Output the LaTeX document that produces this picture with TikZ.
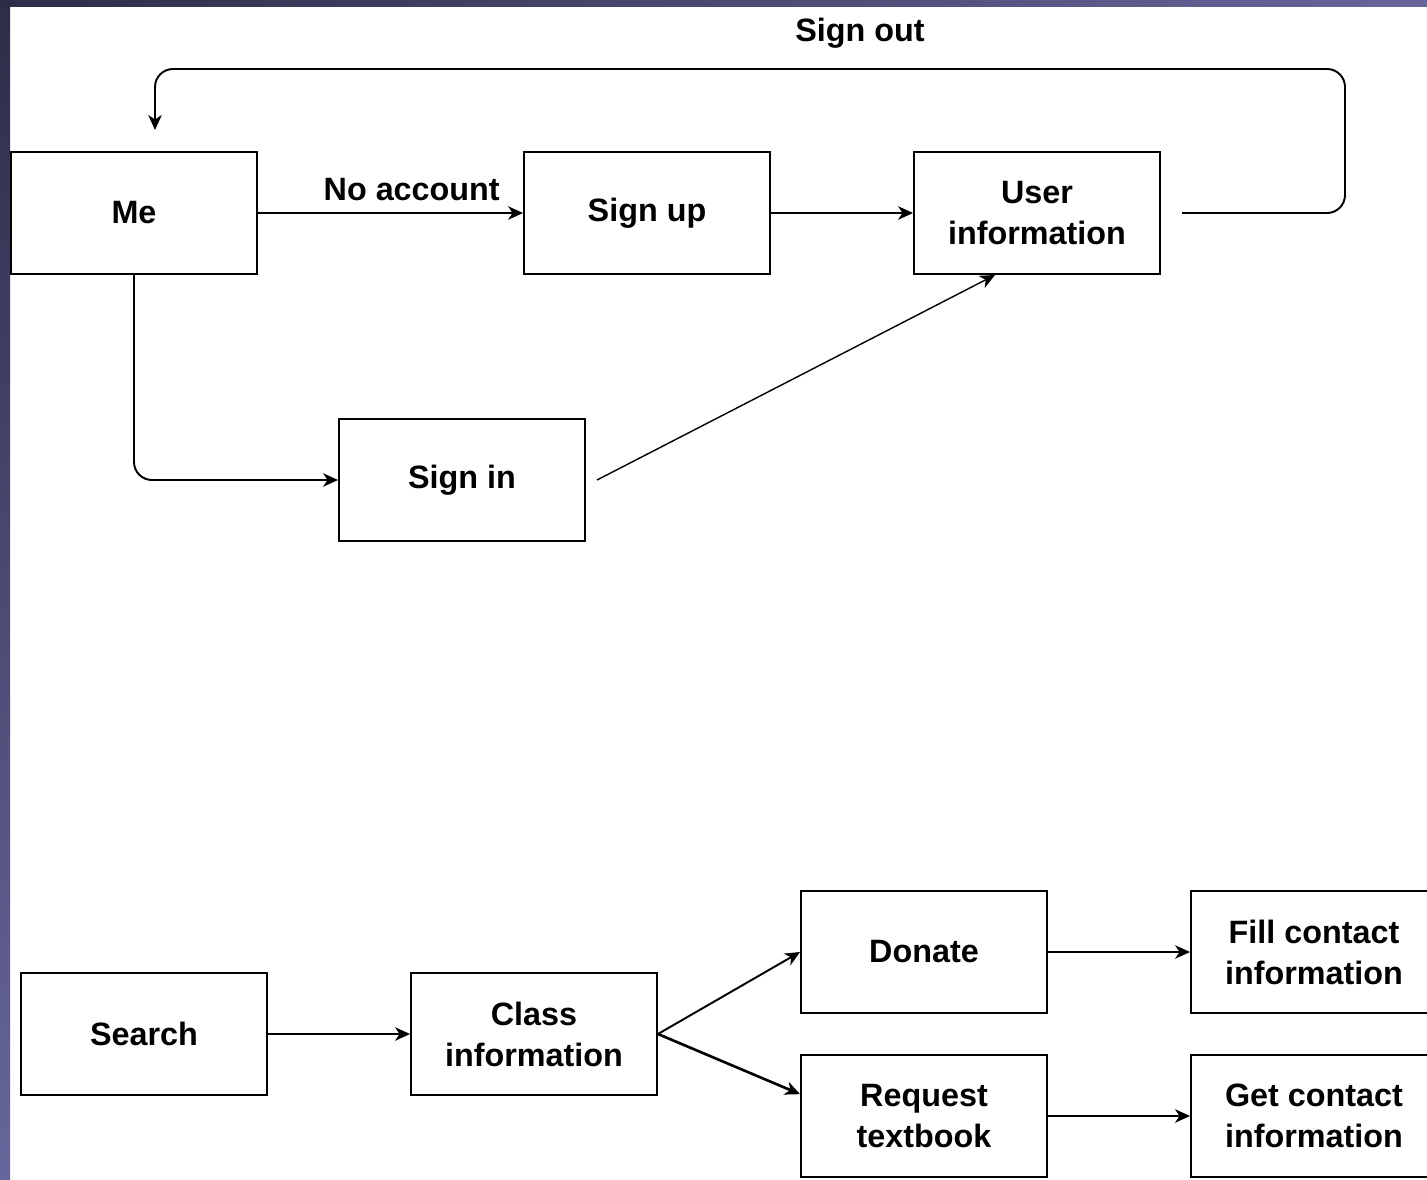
\documentclass[tikz,border=0pt]{standalone}
\usepackage{fontspec}
\setmainfont{Liberation Sans}
\usetikzlibrary{positioning, arrows.meta}

\definecolor{framedark}{HTML}{2E2D47}
\definecolor{framelight}{HTML}{67669C}

\begin{document}
\begin{tikzpicture}
            [x=0.02cm, y=-0.02cm,
             block/.style={draw, line width=1.1pt, minimum width=4.92cm, minimum height=2.44cm,
                           inner sep=0pt, align=center, font=\bfseries\fontsize{18.4}{23.3}\selectfont},
             lbl/.style={font=\bfseries\fontsize{18.4}{23.3}\selectfont},
             link/.style={line width=1.1pt},
             >={Stealth[length=0.3cm, width=0.27cm, inset=0.09cm]}]
            \useasboundingbox (0,0) rectangle (1427,1180);
            \clip (0,0) rectangle (1427,1180);
            \fill[white] (0,0) rectangle (1427,1180);
            \shade[top color=framedark, bottom color=framelight] (0,0) rectangle (10,1180);
            \shade[left color=framedark, right color=framelight] (0,0) rectangle (1427,6);

            % account part
            \node[block] (me) at (134,213) {Me};
            \node[block] (signup) at (647,213) {Sign up};
            \node[block] (userinfo) at (1037,213) {User\\information};
            \node[block] (signin) at (462,480) {Sign in};
            \coordinate (uiout) at (1182,213);
            \coordinate (mein) at (155,130);
            \coordinate (siout) at (597,480);
            \coordinate (uiin) at (995,275);

            \draw[link, ->] (me) -- node[lbl, pos=0.58, above=0.1cm] {No account} (signup);
            \draw[link, ->] (signup) -- (userinfo);
            \draw[link, ->, rounded corners=0.36cm] (uiout) -- (1345,213) -- (1345,69)
                -- node[lbl, pos=0.4076, above=0.27cm] {Sign out} (155,69) -- (mein);
            \draw[link, ->, rounded corners=0.36cm] (me.south) |- (signin.west);
            \draw[line width=0.8pt, ->] (siout) -- (uiin);

            % textbook part
            \node[block] (search) at (144,1034) {Search};
            \node[block] (classinfo) at (534,1034) {Class\\information};
            \node[block] (donate) at (924,952) {Donate};
            \node[block] (request) at (924,1116) {Request\\textbook};
            \node[block] (fillinfo) at (1314,952) {Fill contact\\information};
            \node[block] (getinfo) at (1314,1116) {Get contact\\information};

            \draw[link, ->] (search) -- (classinfo);
            \draw[link, ->] (classinfo.east) -- (donate.west);
            \draw[line width=1.5pt, ->] (classinfo.east) -- (request.170);
            \draw[link, ->] (donate) -- (fillinfo);
            \draw[link, ->] (request) -- (getinfo);
        \end{tikzpicture}
\end{document}
